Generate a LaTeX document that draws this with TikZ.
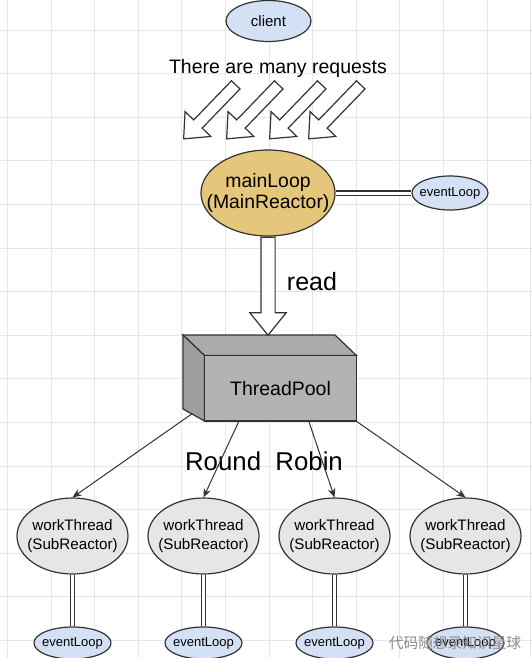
\documentclass[tikz,border=0pt]{standalone}
\usepackage{fontspec}
\setmainfont{Liberation Sans}
\newfontfamily\cjk{Noto Sans CJK SC}
\usetikzlibrary{shapes.geometric,shapes.arrows,arrows.meta}
\definecolor{linec}{HTML}{333333}
\definecolor{bluef}{HTML}{D4E1F5}
\definecolor{goldf}{HTML}{E5C77B}
\definecolor{grayf}{HTML}{E6E6E6}
\definecolor{cubef}{HTML}{B3B3B3}
\definecolor{cubet}{HTML}{ABABAB}
\definecolor{cubel}{HTML}{9E9E9E}
\definecolor{gridc}{HTML}{E6E6E6}
\definecolor{cjkc}{HTML}{8A8A8A}
\newcommand{\fsz}[2]{\fontsize{#1pt}{#2pt}\selectfont}

\begin{document}
\begin{tikzpicture}[x=1pt,y=-1pt,
  ell/.style={ellipse, draw=linec, line width=1.2pt, inner sep=0pt},
  evl/.style={ell, fill=bluef, minimum width=77pt, minimum height=32pt, label={[font=\fsz{13}{15}]center:eventLoop}},
  wth/.style={ell, fill=grayf, minimum width=111pt, minimum height=76pt, label={[font=\fsz{15.2}{18.3}, align=center]center:workThread\\(SubReactor)}},
  dbl/.style={draw=linec, line width=1.1pt, double=white, double distance=3pt},
  conn/.style={draw=linec, line width=1pt, -{Stealth[length=9pt, width=7.5pt]}},
  flex/.style={single arrow, draw=linec, fill=white, line width=1.2pt, inner xsep=0pt, minimum width=1pt},
  gridline/.style={draw=gridc, line width=0.8pt}]
\useasboundingbox (0,0) rectangle (532,658);
\clip (0,0) rectangle (532,658);
\fill[white] (0,0) rectangle (532,658);
\foreach \gx in {0,...,12} \draw[gridline] ({7.3+43.6*\gx},0) -- ++(0,658);
\foreach \gy in {0,...,14} \draw[gridline] (0,{30+43.6*\gy}) -- ++(532,0);

\node[ell, fill=bluef, minimum width=85pt, minimum height=41pt, label={[font=\fsz{15}{17}]center:client}] (client) at (268.5,21) {};
\node[font=\fsz{19.5}{22}, anchor=base] (many) at (278,73.5) {There are many requests};
\foreach \tx [count=\i] in {183,226,269,308}
  \node[flex, minimum height=75pt, inner ysep=5.3pt, single arrow head extend=12pt, single arrow tip angle=82, rotate=-134, anchor=tip] (req\i) at (\tx,139.5) {};

\node[ell, fill=goldf, minimum width=134pt, minimum height=86pt, label={[font=\fsz{19.4}{21.7}, align=center]center:mainLoop\\(MainReactor)}] (main) at (268,193) {};
\node[evl, minimum width=76pt, minimum height=34pt] (ev0) at (450,193) {};
\draw[dbl] (main.east) -- (ev0.west);

\filldraw[draw=linec, fill=cubet, line width=1.2pt] (183,335) -- (335,335) -- (356.5,355.5) -- (204.5,355.5) -- cycle;
\filldraw[draw=linec, fill=cubel, line width=1.2pt] (183,335) -- (204.5,355.5) -- (204.5,421) -- (183,409) -- cycle;
\node[draw=linec, fill=cubef, line width=1.2pt, font=\fsz{19.5}{22}, minimum width=152pt, minimum height=65.5pt, inner sep=0pt] (pool) at (280.5,388.25) {ThreadPool};

\node[flex, minimum height=98pt, inner ysep=6.5pt, single arrow head extend=11pt, single arrow tip angle=78, rotate=-90, anchor=tail] (rd) at (main.south) {};
\node[font=\fsz{25}{28}, anchor=base] (readl) at (312,290) {read};

\node[font=\fsz{25.8}{28}, anchor=base] (rr) at (264,470.5) {Round\ \ Robin};
\coordinate (s1) at (191.7,414);
\coordinate (s2) at (239,421);
\coordinate (s3) at (308.7,421);
\coordinate (s4) at (356,421);
\foreach \i in {1,...,4} {
  \node[wth] (wt\i) at ({72.5+131*(\i-1)},536) {};
  \node[evl] (el\i) at ({72.5+131*(\i-1)},643) {};
  \draw[dbl] (wt\i.south) -- (el\i.north);
  \draw[conn] (s\i) -- (wt\i.north);
}
\node[font=\cjk\fsz{14.7}{16}, text=cjkc] (mark) at (455,643) {代码随想录知识星球};
\end{tikzpicture}
\end{document}
